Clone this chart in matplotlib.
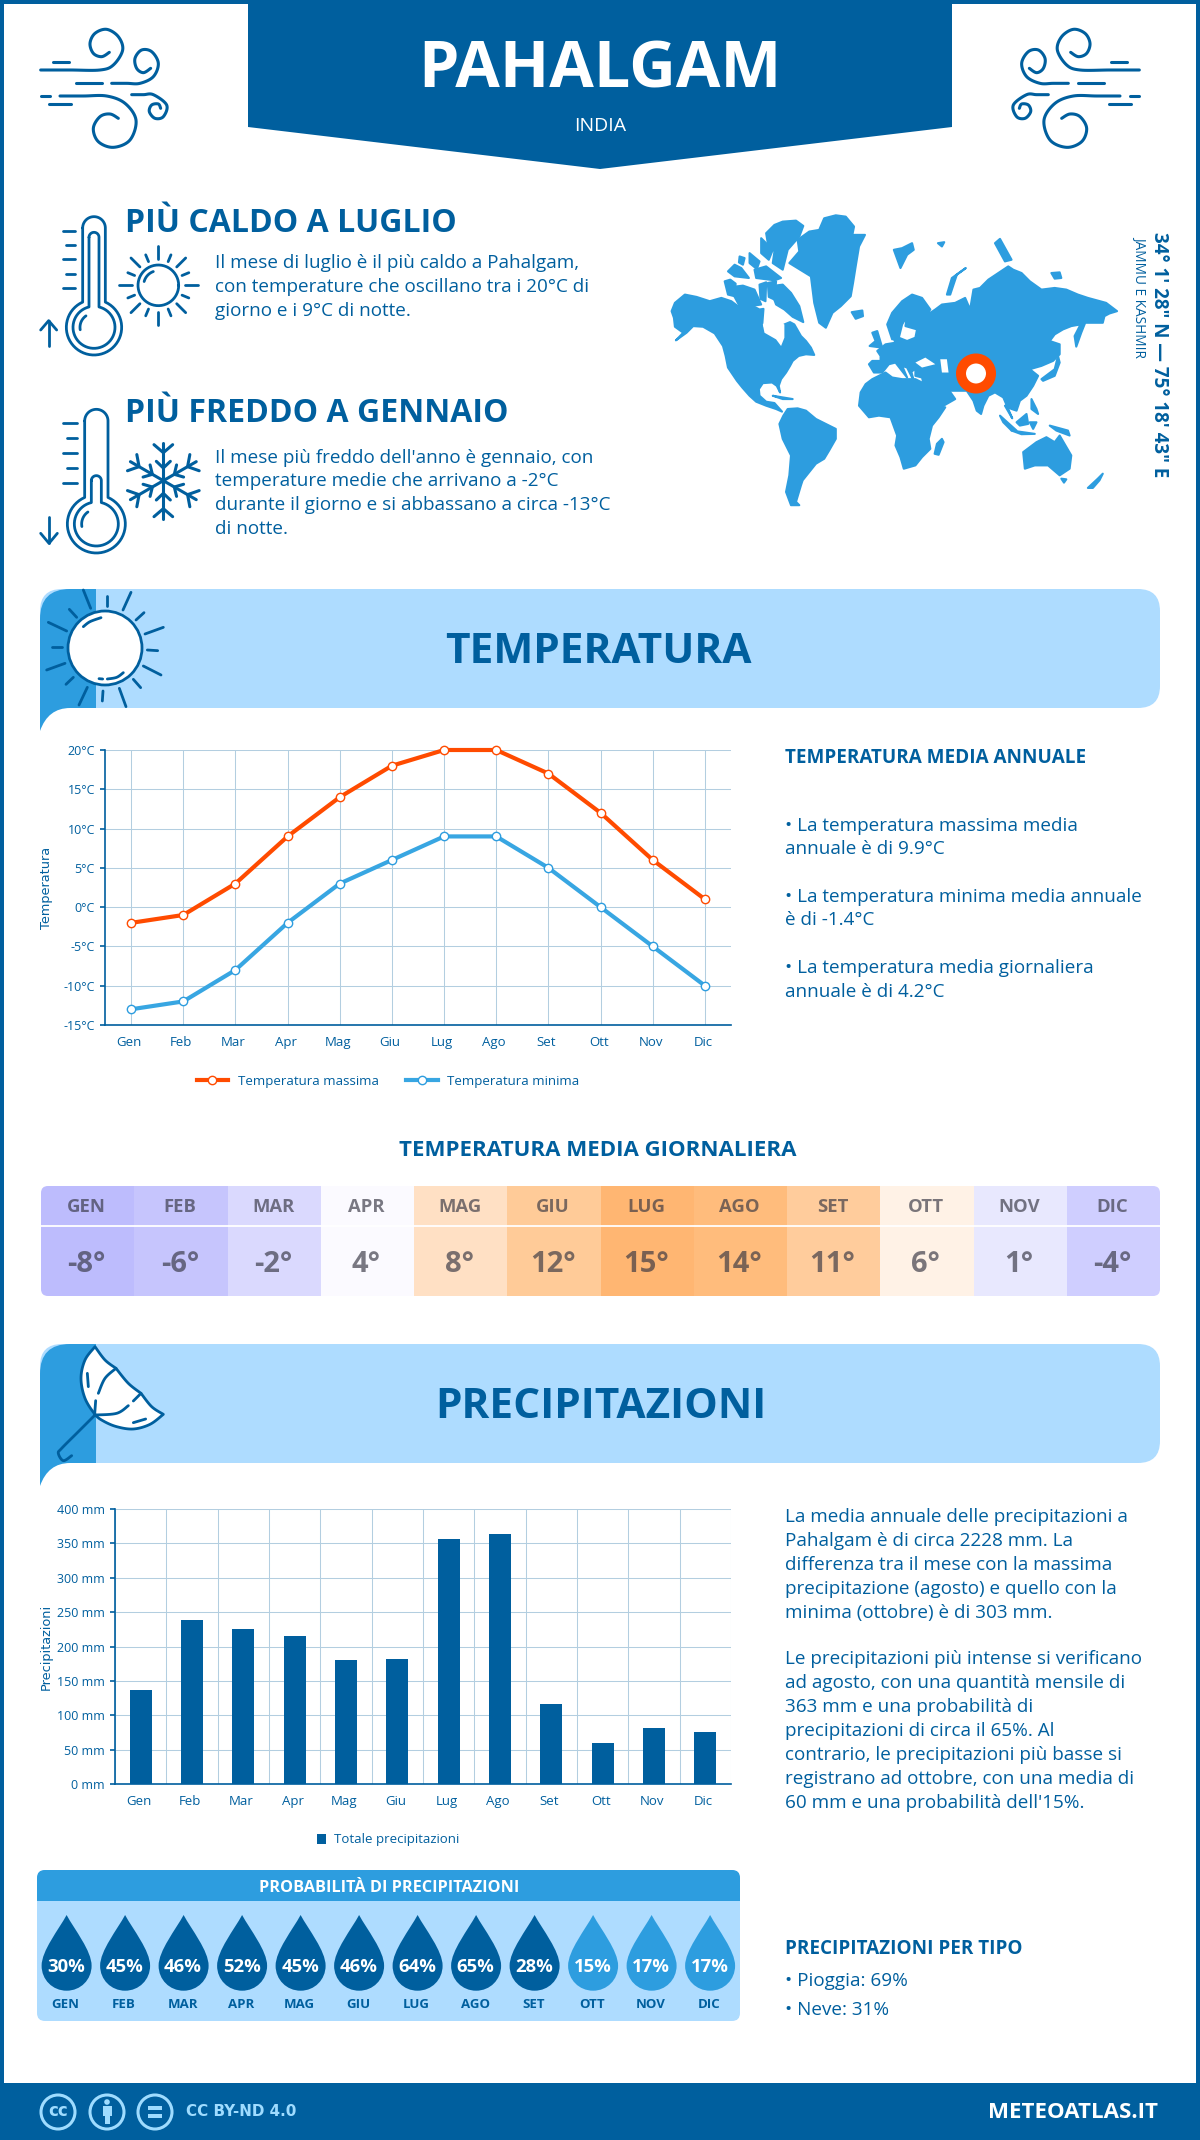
import numpy as np
from matplotlib import pyplot as plt
from matplotlib.patches import Circle, FancyBboxPatch, PathPatch, Polygon, Rectangle
from matplotlib.path import Path
from matplotlib.transforms import ScaledTranslation

plt.rcParams['font.family'] = ['Open Sans', 'DejaVu Sans']

months = ['Gen', 'Feb', 'Mar', 'Apr', 'Mag', 'Giu', 'Lug', 'Ago', 'Set', 'Ott', 'Nov', 'Dic']
months_up = ['GEN', 'FEB', 'MAR', 'APR', 'MAG', 'GIU', 'LUG', 'AGO', 'SET', 'OTT', 'NOV', 'DIC']
temp_max = [-2, -1, 3, 9, 14, 18, 20, 20, 17, 12, 6, 1]
temp_min = [-13, -12, -8, -2, 3, 6, 9, 9, 5, 0, -5, -10]
temp_mean = [-8, -6, -2, 4, 8, 12, 15, 14, 11, 6, 1, -4]
mean_colors = ['#bdbcfd', '#c6c5fd', '#dad9fe', '#fbfaff', '#ffe0c4', '#ffcb98',
               '#ffb672', '#ffbc7c', '#ffcc9c', '#fff2e6', '#e8e8fe', '#cfceff']
precip = [137, 239, 226, 216, 181, 182, 356, 363, 117, 60, 81, 76]
rain_prob = [30, 45, 46, 52, 45, 46, 64, 65, 28, 15, 17, 17]

NAVY = '#005f9e'
BLUE = '#2d9ddf'
LIGHT = '#aedcff'
ORANGE = '#ff4b00'
PALE = '#9fdcff'
GRID = '#b3cee0'

W, H = 1200, 2140
fig = plt.figure(figsize=(W / 100, H / 100), dpi=100)
bg = fig.add_axes([0, 0, 1, 1])
bg.set_xlim(0, W)
bg.set_ylim(H, 0)
bg.axis('off')


def px_axes(left, top, right, bottom):
    ax = fig.add_axes([left / W, 1 - bottom / H, (right - left) / W, (bottom - top) / H])
    ax.patch.set_alpha(0)
    return ax


def smooth(pts, n=10):
    # catmull-rom through the points, good enough for the icons
    p = np.array(pts, dtype=float)
    p = np.vstack([p[0], p, p[-1]])
    out = []
    for i in range(1, len(p) - 2):
        t = np.linspace(0, 1, n, endpoint=False)[:, None]
        out.append(0.5 * (2 * p[i] + (p[i + 1] - p[i - 1]) * t
                          + (2 * p[i - 1] - 5 * p[i] + 4 * p[i + 1] - p[i + 2]) * t ** 2
                          + (3 * p[i] - p[i - 1] - 3 * p[i + 1] + p[i + 2]) * t ** 3))
    out.append(p[-1:])
    return np.vstack(out)


def arc(cx, cy, r, a0, a1):
    a = np.radians(np.linspace(a0, a1, 50))
    return np.column_stack([cx + r * np.cos(a), cy + r * np.sin(a)])


def stroke(pts, ox, oy, s=1 / 3, lw=2.0, color=NAVY, mirror=None, z=3):
    p = np.asarray(pts, dtype=float) * s + [ox, oy]
    if mirror is not None:
        p[:, 0] = mirror - p[:, 0]
    bg.plot(p[:, 0], p[:, 1], color=color, lw=lw, solid_capstyle='round',
            solid_joinstyle='round', zorder=z)


def label(x, y, s, size=13.6, weight='normal', color=NAVY, ha='left', va='center', **kw):
    return bg.text(x, y + 1, s, fontsize=size, fontweight=weight, color=color, ha=ha, va=va, **kw)


# frame, banner and footer
bg.add_patch(Rectangle((0, 0), W, H, fc='white', ec='none', zorder=0))
bg.add_patch(Rectangle((0, 0), 4, H, fc=NAVY, ec='none', zorder=1))
bg.add_patch(Rectangle((W - 4, 0), 4, H, fc=NAVY, ec='none', zorder=1))
bg.add_patch(Rectangle((0, 0), W, 4, fc=NAVY, ec='none', zorder=1))
bg.add_patch(Polygon([(248, 0), (952, 0), (952, 127), (600, 169), (248, 127)], fc=NAVY, ec='none', zorder=2))
bg.add_patch(Rectangle((0, 2083), W, 57, fc=NAVY, ec='none', zorder=2))
label(600, 70, 'PAHALGAM', 46.5, 'bold', 'white', ha='center', zorder=4)
label(600, 125, 'INDIA', 14, color='white', ha='center', zorder=4)


def wind(mirror=None):
    kw = dict(ox=30, oy=10, mirror=mirror, lw=2.2)
    stroke([(70, 155), (118, 155)], **kw)
    stroke(smooth([(32, 180), (120, 180), (210, 180), (250, 165), (278, 120), (265, 80), (230, 58), (195, 70),
                   (180, 100), (190, 130), (215, 140), (238, 127)]), **kw)
    stroke([(138, 220), (215, 220)], **kw)
    stroke(smooth([(245, 220), (290, 220), (330, 220), (370, 200), (385, 160), (365, 125), (335, 120), (315, 145),
                   (320, 175), (340, 188), (362, 175)]), **kw)
    stroke([(32, 258), (60, 258)], **kw)
    stroke(smooth([(90, 258), (160, 258), (230, 258), (285, 280), (318, 330), (300, 390), (250, 412), (205, 395),
                   (190, 355), (210, 320), (240, 312), (265, 325)]), **kw)
    stroke([(56, 283), (124, 283)], **kw)
    stroke(smooth([(305, 254), (340, 254), (370, 254), (410, 285), (400, 320), (375, 325), (358, 305), (365, 285),
                   (385, 282), (392, 295)]), **kw)


wind()
wind(mirror=1180)


def thermometer(cx, tube_top, tube_r, bulb_y, r_out, r_in, in_top, in_r):
    a = np.degrees(np.arcsin(tube_r / r_out))
    outer = np.vstack([arc(cx, tube_top + tube_r, tube_r, 180, 360),
                       arc(cx, bulb_y, r_out, -90 + a, 270 - a)])
    stroke(np.vstack([outer, outer[:1]]), 30, 200)
    b = np.degrees(np.arcsin(in_r / r_in))
    inner = np.vstack([arc(cx, in_top + in_r, in_r, 180, 360),
                       arc(cx, bulb_y, r_in, -90 + b, 270 - b)])
    stroke(np.vstack([inner, inner[:1]]), 30, 200)


# hot icon
thermometer(192, 50, 34, 382, 83, 63, 97, 15)
stroke(arc(192, 382, 42, 170, 235), 30, 200)
for yy, x0 in zip([93, 136, 178, 221, 263], [98, 108, 98, 108, 98]):
    stroke([(x0, yy), (135, yy)], 30, 200)
stroke([(56, 438), (56, 362)], 30, 200)
stroke([(32, 390), (56, 362), (80, 390)], 30, 200)
stroke(arc(385, 256, 61, 0, 360), 30, 200)
stroke(arc(385, 256, 44, 195, 250), 30, 200)
for k in range(8):
    a = np.radians(k * 45)
    r0, r1 = (80, 118) if k % 2 == 0 else (78, 116)
    stroke([(385 + r0 * np.cos(a), 256 + r0 * np.sin(a)), (385 + r1 * np.cos(a), 256 + r1 * np.sin(a))], 30, 200)
    a = a + np.radians(22.5)
    stroke([(385 + 77 * np.cos(a), 256 + 77 * np.sin(a)), (385 + 99 * np.cos(a), 256 + 99 * np.sin(a))], 30, 200)

# cold icon
thermometer(199, 628, 35, 972, 87, 66, 827, 15)
stroke(arc(199, 972, 44, 170, 235), 30, 200)
for yy, x0 in zip([670, 715, 760, 803, 848], [100, 110, 100, 110, 100]):
    stroke([(x0, yy), (140, yy)], 30, 200)
stroke([(57, 950), (57, 1030)], 30, 200)
stroke([(32, 1000), (57, 1030), (82, 1000)], 30, 200)
for k in range(6):
    a = np.radians(60 * k)
    rot = np.array([[np.cos(a), -np.sin(a)], [np.sin(a), np.cos(a)]])
    for seg in ([(0, 0), (0, -114)], [(-28, -108), (0, -84), (28, -108)], [(-21, -58), (0, -38), (21, -58)]):
        stroke((rot @ np.array(seg, dtype=float).T).T + [400, 842], 30, 200, lw=2.2)

label(125, 222, 'PIÙ CALDO A LUGLIO', 23, 'bold')
label(125, 412, 'PIÙ FREDDO A GENNAIO', 23, 'bold')
for yy, s in zip([262, 286, 310], ['Il mese di luglio è il più caldo a Pahalgam,',
                                   'con temperature che oscillano tra i 20°C di',
                                   'giorno e i 9°C di notte.']):
    label(215, yy, s)
for yy, s in zip([457, 480, 504, 528], ["Il mese più freddo dell'anno è gennaio, con",
                                        'temperature medie che arrivano a -2°C',
                                        'durante il giorno e si abbassano a circa -13°C',
                                        'di notte.']):
    label(215, yy, s)

# world map, traced by eye from the reference crop
land = [
    # north america
    [(35, 305), (45, 280), (75, 255), (110, 262), (150, 275), (185, 265), (215, 275), (235, 290), (262, 280),
     (300, 300), (312, 298), (308, 350), (320, 372), (352, 392), (365, 412), (372, 378), (375, 345), (392, 338),
     (405, 345), (425, 380), (440, 395), (455, 415), (465, 437), (440, 435), (418, 440), (400, 455), (392, 470),
     (380, 490), (365, 510), (358, 530), (362, 550), (352, 530), (338, 520), (310, 522), (298, 540), (300, 560),
     (320, 578), (345, 582), (368, 608), (350, 600), (320, 590), (290, 578), (270, 560), (248, 535), (232, 515),
     (205, 475), (198, 440), (190, 410), (165, 372), (130, 352), (100, 350), (80, 370), (48, 393), (70, 370),
     (45, 352), (42, 325)],
    # arctic islands
    [(195, 215), (212, 210), (228, 222), (225, 260), (205, 255)],
    [(205, 185), (225, 165), (245, 175), (268, 205), (225, 200)],
    [(240, 140), (255, 145), (250, 165), (238, 158)],
    [(270, 130), (300, 155), (292, 178), (270, 160)],
    [(285, 180), (320, 170), (365, 205), (345, 212), (290, 205)],
    [(305, 85), (340, 120), (328, 150), (305, 130)],
    [(218, 232), (250, 228), (285, 240), (305, 285), (270, 290), (240, 290), (225, 262)],
    [(300, 225), (320, 218), (318, 275), (303, 268)],
    [(325, 220), (350, 215), (345, 270), (328, 262)],
    [(330, 230), (370, 225), (395, 250), (420, 290), (432, 338), (400, 322), (375, 300), (350, 285)],
    [(320, 70), (345, 45), (370, 35), (410, 32), (432, 48), (420, 80), (385, 120), (370, 180), (340, 160), (345, 125),
     (325, 100)],
    # greenland, iceland
    [(415, 90), (450, 65), (480, 60), (495, 25), (530, 16), (560, 20), (585, 50), (580, 75), (618, 75), (600, 110),
     (590, 170), (582, 220), (575, 260), (545, 290), (520, 310), (500, 355), (480, 340), (465, 280), (455, 200),
     (390, 160), (420, 125)],
    [(578, 308), (610, 303), (612, 320), (590, 328)],
    # south america
    [(360, 645), (372, 620), (385, 600), (415, 598), (440, 605), (470, 630), (500, 645), (530, 660), (530, 690),
     (510, 725), (495, 750), (470, 765), (450, 790), (430, 815), (425, 830), (410, 880), (420, 890), (395, 890),
     (380, 850), (390, 800), (395, 740), (370, 690)],
    # africa
    [(605, 550), (620, 525), (640, 510), (680, 490), (700, 505), (730, 510), (770, 510), (790, 520), (810, 560),
     (830, 590), (860, 595), (840, 625), (820, 650), (810, 690), (815, 720), (790, 745), (770, 770), (735, 780),
     (725, 745), (710, 710), (715, 680), (695, 625), (660, 620), (630, 625), (600, 590)],
    [(850, 690), (855, 700), (840, 738), (828, 735), (835, 705)],
    # eurasia
    [(630, 465), (640, 455), (665, 455), (665, 440), (655, 425), (680, 405), (710, 400), (700, 378), (720, 385),
     (745, 395), (770, 385), (775, 360), (740, 350), (745, 320), (752, 308), (730, 345), (720, 385), (700, 390),
     (685, 345), (700, 310), (730, 275), (760, 255), (790, 265), (815, 300), (800, 320), (830, 300), (850, 285),
     (890, 280), (920, 265), (935, 300), (945, 240), (965, 235), (990, 210), (1020, 190), (1050, 170), (1065, 180),
     (1090, 190), (1115, 215), (1150, 240), (1190, 235), (1225, 240), (1260, 255), (1290, 265), (1345, 280),
     (1378, 305), (1355, 312), (1340, 320), (1335, 340), (1300, 340), (1282, 340), (1270, 370), (1255, 412),
     (1250, 380), (1268, 345), (1240, 350), (1215, 360), (1190, 375), (1175, 395), (1205, 405), (1205, 435),
     (1185, 455), (1150, 470), (1115, 480), (1140, 500), (1125, 530), (1105, 560), (1085, 575), (1075, 605),
     (1060, 600), (1040, 590), (1062, 628), (1035, 565), (1010, 550), (990, 560), (975, 590), (968, 615), (955, 605),
     (945, 575), (925, 545), (880, 545), (855, 520), (890, 570), (855, 590), (835, 590), (810, 555), (795, 525),
     (790, 505), (770, 500), (770, 478), (758, 488), (765, 515), (745, 475), (730, 470), (745, 505), (710, 460),
     (690, 465), (670, 490), (645, 490)],
    # islands around eurasia
    [(640, 370), (655, 365), (670, 415), (632, 410), (650, 395)],
    [(865, 255), (880, 205), (922, 175), (895, 195), (875, 255)],
    [(705, 120), (730, 115), (760, 100), (765, 120), (745, 135), (725, 175)],
    [(838, 100), (857, 97), (850, 110)],
    [(1010, 100), (1025, 87), (1060, 150), (1040, 155)],
    [(1180, 190), (1205, 188), (1210, 205), (1190, 207)],
    [(1150, 510), (1190, 480), (1200, 440), (1205, 460), (1190, 500), (1155, 515)],
    [(1025, 620), (1075, 665), (1060, 665), (1035, 640)],
    [(1060, 665), (1130, 675), (1090, 676)],
    [(1075, 640), (1105, 615), (1110, 645), (1085, 650)],
    [(1115, 640), (1135, 640), (1125, 660)],
    [(1175, 650), (1230, 665), (1235, 680), (1195, 665)],
    [(1120, 570), (1135, 600), (1140, 615), (1120, 600)],
    # australia, new zealand
    [(1095, 730), (1135, 700), (1165, 685), (1190, 700), (1205, 680), (1240, 740), (1235, 780), (1205, 800),
     (1170, 770), (1130, 770), (1100, 780)],
    [(1210, 810), (1225, 812), (1218, 822)],
    [(1290, 838), (1320, 810), (1335, 795), (1325, 815), (1305, 838)],
    [(340, 560), (400, 570), (370, 570)],
]
holes = [
    [(310, 345), (330, 325), (375, 345), (375, 385), (365, 410), (350, 390), (315, 370)],
    [(770, 460), (800, 445), (830, 465), (790, 475)],
    [(845, 450), (865, 450), (870, 490), (850, 490)],
]


def map_xy(pts):
    return np.array(pts, dtype=float) / 3.015 + [660, 210]


for pts in land:
    bg.add_patch(Polygon(map_xy(pts), fc=BLUE, ec=BLUE, lw=1.5, joinstyle='round', zorder=2))
for pts in holes:
    bg.add_patch(Polygon(map_xy(pts), fc='white', ec='none', zorder=2.5))
bg.add_patch(Circle((976, 373.5), 15, fc='white', ec=ORANGE, lw=7.2, zorder=3))
label(1159, 354, '34° 1\' 28" N — 75° 18\' 43" E', 13.5, 'bold', ha='center', rotation=270, rotation_mode='anchor')
label(1140, 295, 'JAMMU E KASHMIR', 9.8, ha='center', rotation=270, rotation_mode='anchor')


def header_band(y0, title, tx):
    h = 119
    bg.add_patch(FancyBboxPatch((40, y0), 1120, h, boxstyle='round,pad=0,rounding_size=22',
                                fc=LIGHT, ec='none', zorder=1))
    verts = [(40, y0 + 30), (40, y0), (70, y0), (96, y0), (96, y0 + h), (70, y0 + h),
             (48, y0 + h), (40, y0 + h + 23), (40, y0 + 30)]
    codes = [Path.MOVETO, Path.CURVE3, Path.CURVE3, Path.LINETO, Path.LINETO, Path.LINETO,
             Path.CURVE3, Path.CURVE3, Path.CLOSEPOLY]
    bg.add_patch(PathPatch(Path(verts, codes), fc=BLUE, ec='none', zorder=1.5))
    label(tx, y0 + 62.5, title, 30.5, 'bold', ha='center', zorder=4)


header_band(589, 'TEMPERATURA', 598)
header_band(1344, 'PRECIPITAZIONI', 600.5)

# sun in the temperature band
bg.add_patch(Circle((105, 648), 37, fc='white', ec=NAVY, lw=2, zorder=3))
rays = [[(160, 30), (182, 85)], [(230, 48), (230, 78)], [(303, 37), (279, 90)], [(342, 98), (318, 120)],
        [(400, 142), (345, 162)], [(383, 212), (352, 210)], [(393, 285), (340, 258)], [(332, 323), (310, 298)],
        [(288, 380), (268, 325)], [(217, 363), (219, 333)], [(147, 375), (172, 322)], [(108, 313), (130, 292)],
        [(50, 270), (105, 250)], [(67, 200), (97, 200)], [(55, 127), (110, 153)], [(118, 88), (140, 112)],
        [(207, 296), (218, 297)]]
for r in rays:
    stroke(r, 30, 580)
stroke(smooth([(160, 140), (180, 125), (213, 113)]), 30, 580)
stroke(smooth([(232, 297), (260, 292), (280, 278)]), 30, 580)

# umbrella in the rain band
canopy = smooth([(195, 35), (225, 75), (258, 100)]).tolist() + smooth([(258, 100), (295, 145), (333, 175)]).tolist() \
    + smooth([(333, 175), (365, 215), (400, 238)]).tolist() \
    + smooth([(400, 238), (360, 268), (310, 282), (260, 275), (220, 258), (195, 238), (165, 190), (153, 130), (165, 75), (195, 35)]).tolist()
canopy = np.array(canopy) / 3 + [30, 1335]
bg.add_patch(Polygon(canopy, fc='white', ec=NAVY, lw=2, joinstyle='round', zorder=3))
stroke(smooth([(258, 100), (225, 130), (205, 175)]), 30, 1335, z=4)
stroke([(197, 197), (194, 238)], 30, 1335, z=4)
stroke([(333, 175), (310, 198)], 30, 1335, z=4)
stroke(smooth([(295, 212), (260, 235), (195, 240)]), 30, 1335, z=4)
stroke([(172, 115), (175, 155)], 30, 1335, z=4)
stroke([(310, 263), (347, 252)], 30, 1335, z=4)
stroke(smooth([(195, 240), (145, 290), (95, 340), (85, 355), (100, 377), (125, 362)]), 30, 1335, z=4)

# temperature chart
ax = px_axes(105, 750, 731, 1025)
x = np.arange(12)
ax.plot(x, temp_max, color=ORANGE, lw=3, marker='o', ms=6, mfc='white', mec=ORANGE, mew=1,
        label='Temperatura massima', clip_on=False, zorder=5)
ax.plot(x, temp_min, color='#38a6e2', lw=3, marker='o', ms=6, mfc='white', mec=BLUE, mew=1,
        label='Temperatura minima', clip_on=False, zorder=5)
ax.set_xlim(-0.5, 11.5)
ax.set_ylim(-15, 20)
ax.set_yticks(range(-15, 25, 5))
ax.set_yticklabels([f'{v}°C' for v in range(-15, 25, 5)])
ax.set_xticks(x)
ax.set_xticklabels(months)
ax.set_ylabel('Temperatura', fontsize=9.3, color=NAVY, family='DejaVu Sans', labelpad=0)
ax.yaxis.set_label_coords(-52 / 626, 0.5)
ax.grid(True, color=GRID, lw=0.75)
ax.set_axisbelow(True)
ax.tick_params(axis='y', length=3.6, width=1.2, color=NAVY, labelcolor=NAVY, labelsize=9, pad=3.6)
ax.tick_params(axis='x', length=0, labelcolor=NAVY, labelsize=9.5, pad=8)
for s in ['top', 'right']:
    ax.spines[s].set_visible(False)
for s in ['left', 'bottom']:
    ax.spines[s].set_color(NAVY)
    ax.spines[s].set_linewidth(1.2)
for t in ax.get_xticklabels():
    t.set_transform(t.get_transform() + ScaledTranslation(-2 / 100, 0, fig.dpi_scale_trans))
leg = ax.legend(loc='center', bbox_to_anchor=(388 / W, 1 - 1081 / H), bbox_transform=fig.transFigure, ncols=2,
                frameon=False, fontsize=9.5, handlelength=2.4, columnspacing=2.1, handletextpad=0.7, labelcolor=NAVY)

label(785, 757, 'TEMPERATURA MEDIA ANNUALE', 13.6, 'bold')
for yy, s in zip([825, 848, 896, 919, 967, 991], ['• La temperatura massima media', 'annuale è di 9.9°C',
                                                  '• La temperatura minima media annuale', 'è di -1.4°C',
                                                  '• La temperatura media giornaliera', 'annuale è di 4.2°C']):
    label(785, yy, s)

# mean temperature table
label(598, 1149, 'TEMPERATURA MEDIA GIORNALIERA', 16, 'bold', ha='center')
clip = FancyBboxPatch((41, 1186), 1119, 110, boxstyle='round,pad=0,rounding_size=7', fc='none', ec='none',
                      transform=bg.transData)
bg.add_patch(clip)
cell = 1119 / 12
for i in range(12):
    r = Rectangle((41 + i * cell, 1186), cell + 0.5, 110, fc=mean_colors[i], ec='none', zorder=2)
    bg.add_patch(r)
    r.set_clip_path(clip)
    cx = 41 + (i + 0.5) * cell
    label(cx - 1, 1205.5, months_up[i], 13.3, 'bold', (0.2, 0.2, 0.25, 0.65), ha='center', zorder=4)
    label(cx - 1, 1263, f'{temp_mean[i]}°', 21, 'bold', (0.2, 0.2, 0.25, 0.65), ha='center', zorder=4)
bg.plot([41, 1160], [1225.5, 1225.5], color='white', lw=1.3, zorder=3)

# rain chart
ax2 = px_axes(115, 1509, 731, 1784)
ax2.bar(x, precip, width=0.43, color=NAVY, label='Totale precipitazioni', zorder=3)
ax2.set_xlim(-0.5, 11.5)
ax2.set_ylim(0, 400)
ax2.set_yticks(range(0, 450, 50))
ax2.set_yticklabels([f'{v} mm' for v in range(0, 450, 50)])
ax2.set_xticks(x)
ax2.set_xticklabels(months)
ax2.set_xticks(np.arange(-0.5, 12), minor=True)
ax2.set_ylabel('Precipitazioni', fontsize=9.3, color=NAVY, family='DejaVu Sans', labelpad=0)
ax2.yaxis.set_label_coords(-62 / 616, 0.5)
ax2.grid(True, axis='y', color=GRID, lw=0.75)
ax2.grid(True, axis='x', which='minor', color=GRID, lw=0.75)
ax2.set_axisbelow(True)
ax2.tick_params(axis='y', length=3.6, width=1.2, color=NAVY, labelcolor=NAVY, labelsize=9, pad=3.6)
ax2.tick_params(axis='x', which='both', length=0, labelcolor=NAVY, labelsize=9.5, pad=8)
for s in ['top', 'right']:
    ax2.spines[s].set_visible(False)
for s in ['left', 'bottom']:
    ax2.spines[s].set_color(NAVY)
    ax2.spines[s].set_linewidth(1.2)
for t in ax2.get_xticklabels():
    t.set_transform(t.get_transform() + ScaledTranslation(-2 / 100, 0, fig.dpi_scale_trans))
ax2.legend(loc='center', bbox_to_anchor=(388 / W, 1 - 1840 / H), bbox_transform=fig.transFigure, frameon=False,
           fontsize=9.5, handlelength=0.7, handleheight=0.7, handletextpad=0.6, labelcolor=NAVY)

text1 = ['La media annuale delle precipitazioni a', 'Pahalgam è di circa 2228 mm. La',
         'differenza tra il mese con la massima', 'precipitazione (agosto) e quello con la',
         'minima (ottobre) è di 303 mm.']
text2 = ['Le precipitazioni più intense si verificano', 'ad agosto, con una quantità mensile di',
         '363 mm e una probabilità di', 'precipitazioni di circa il 65%. Al',
         'contrario, le precipitazioni più basse si', 'registrano ad ottobre, con una media di',
         "60 mm e una probabilità dell'15%."]
for i, s in enumerate(text1):
    label(785, 1516 + i * 23.9, s)
for i, s in enumerate(text2):
    label(785, 1658 + i * 24, s)

label(785, 1948, 'PRECIPITAZIONI PER TIPO', 13.6, 'bold')
label(785, 1980, '• Pioggia: 69%')
label(785, 2009, '• Neve: 31%')

# rain probability panel
bg.add_patch(FancyBboxPatch((37, 1870), 703, 151, boxstyle='round,pad=0,rounding_size=8', fc=LIGHT, ec='none', zorder=1))
bg.add_patch(FancyBboxPatch((37, 1870), 703, 20, boxstyle='round,pad=0,rounding_size=8', fc=BLUE, ec='none', zorder=1.5))
bg.add_patch(Rectangle((37, 1880), 703, 21, fc=BLUE, ec='none', zorder=1.5))
label(389, 1887, 'PROBABILITÀ DI PRECIPITAZIONI', 11.7, 'bold', 'white', ha='center', zorder=4)
drop_verts = [(0, -50.7), (-8, -36), (-25, -15), (-25, 0), (-25, 14), (-14, 25), (0, 25),
              (14, 25), (25, 14), (25, 0), (25, -15), (8, -36), (0, -50.7)]
drop_codes = [Path.MOVETO] + [Path.CURVE4] * 12
for i in range(12):
    cx = 66.6 + i * 58.5
    d = Path(np.array(drop_verts) + [cx, 1965.7], drop_codes)
    bg.add_patch(PathPatch(d, fc=NAVY if rain_prob[i] >= 20 else BLUE, ec='none', zorder=2))
    label(cx - 0.5, 1965.5, f'{rain_prob[i]}%', 13.3, 'bold', 'white', ha='center', zorder=4)
    label(cx - 1, 2004, months_up[i], 9.5, 'bold', ha='center', zorder=4)

# footer
for cx in [58, 107, 155]:
    bg.add_patch(Circle((cx, 2112), 17, fc='none', ec=PALE, lw=2.2, zorder=3))
label(58, 2110.5, 'cc', 12, 'bold', PALE, ha='center', family='DejaVu Sans', zorder=4)
bg.add_patch(Circle((107, 2102), 2.8, fc=PALE, ec='none', zorder=4))
bg.add_patch(Rectangle((102.5, 2106), 9, 10, fc=PALE, ec='none', zorder=4))
bg.add_patch(Rectangle((104.5, 2116), 5, 8, fc=PALE, ec='none', zorder=4))
bg.add_patch(Rectangle((148, 2106), 14, 3.5, fc=PALE, ec='none', zorder=4))
bg.add_patch(Rectangle((148, 2114), 14, 3.5, fc=PALE, ec='none', zorder=4))
label(186, 2111, 'CC BY-ND 4.0', 10.9, 'bold', PALE, family='DejaVu Sans', zorder=4)
label(1158, 2112, 'METEOATLAS.IT', 16, 'bold', 'white', ha='right', zorder=4)

fig.savefig('out.png', dpi=100)
